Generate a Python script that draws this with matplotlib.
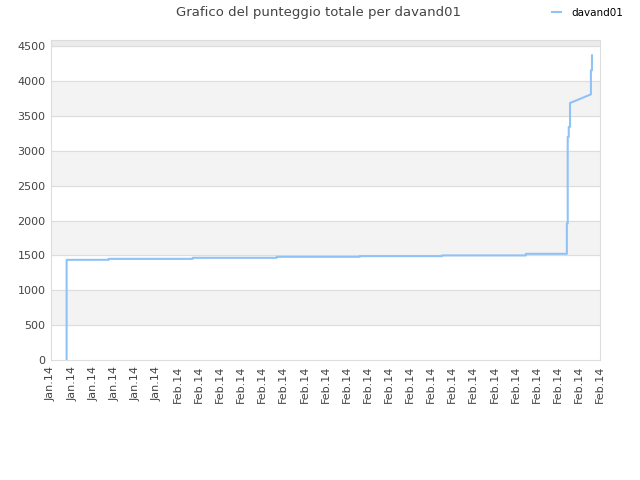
import numpy as np
import matplotlib
matplotlib.use('Agg')
import matplotlib.pyplot as plt

# tick labels along the time axis
month_labels = ['Jan.14'] * 6 + ['Feb.14'] * 21

# score history (x in tick units, y = total score)
score_x = [0.74, 0.74, 2.73, 2.73, 6.71, 6.71, 10.69, 10.69, 14.62, 14.62,
           18.52, 18.52, 22.49, 22.49, 24.43, 24.43, 24.47, 24.47, 24.52, 24.52,
           24.58, 24.58, 25.57, 25.57, 25.62, 25.62]
score_y = [0, 1437, 1437, 1451, 1451, 1466, 1466, 1480, 1480, 1490,
           1490, 1500, 1500, 1523, 1523, 1958, 1958, 3199, 3199, 3342,
           3342, 3686, 3810, 4155, 4155, 4370]

fig = plt.figure(figsize=(6.4, 4.8), dpi=100)
ax = fig.add_axes([51/640, 1 - 360/480, 549/640, 320/480])

ymax = 4590
for lo in range(500, 4500, 1000):
    ax.axhspan(lo, lo + 500, color='#f3f3f3', zorder=0)
ax.axhspan(4500, ymax, color='#ebebeb', zorder=0)
for yv in range(500, 4600, 500):
    ax.axhline(yv, color='#dddddd', lw=0.8, zorder=1)

ax.plot(score_x, score_y, color='#90c3f5', lw=1.5, zorder=3, label='davand01')

ax.set_xlim(0, len(month_labels) - 1)
ax.set_ylim(0, ymax)
ax.set_yticks(range(0, 4600, 500))
ax.set_xticks(range(len(month_labels)))
ax.set_xticklabels(month_labels, rotation=90)
ax.tick_params(length=0, labelsize=8, colors='#444444', pad=4)
for s in ax.spines.values():
    s.set_color('#dddddd')

fig.text(0.497, 0.988, 'Grafico del punteggio totale per davand01',
         ha='center', va='top', fontsize=9.5, color='#444444')
fig.legend(loc='upper right', bbox_to_anchor=(0.988, 1.003), frameon=False,
           fontsize=7.5, handlelength=0.8, handletextpad=1.0)

fig.savefig('out.png', dpi=100)
